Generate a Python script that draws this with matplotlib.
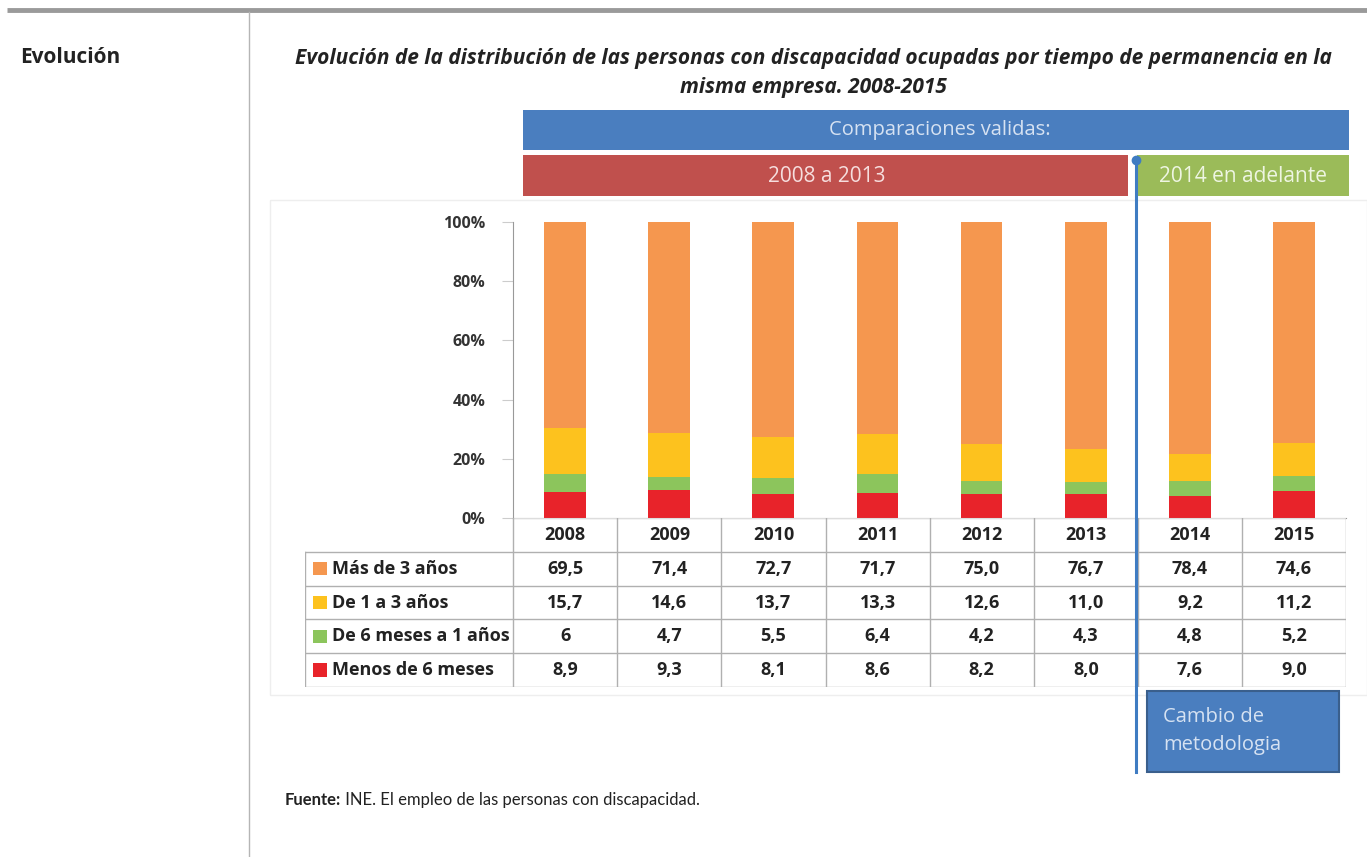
import numpy as np
import matplotlib
matplotlib.use("Agg")
from matplotlib import pyplot as plt
from matplotlib.patches import Rectangle

plt.rcParams['font.family'] = ['Open Sans', 'DejaVu Sans']

# --------------------------------------- data -----------------------------------------

years = ['2008', '2009', '2010', '2011', '2012', '2013', '2014', '2015']
mas_3 = [69.5, 71.4, 72.7, 71.7, 75.0, 76.7, 78.4, 74.6]
de_1_a_3 = [15.7, 14.6, 13.7, 13.3, 12.6, 11.0, 9.2, 11.2]
de_6m_a_1 = [6, 4.7, 5.5, 6.4, 4.2, 4.3, 4.8, 5.2]
menos_6m = [8.9, 9.3, 8.1, 8.6, 8.2, 8.0, 7.6, 9.0]

series_names = ['Más de 3 años', 'De 1 a 3 años', 'De 6 meses a 1 años', 'Menos de 6 meses']
series_values = [mas_3, de_1_a_3, de_6m_a_1, menos_6m]
series_colors = ['#F5974F', '#FDC21E', '#8CC55C', '#E8232A']

y_ticks = [0, 20, 40, 60, 80, 100]

W, H = 1367, 857
fig = plt.figure(figsize=(W / 100, H / 100), dpi=100)


def px_axes(x0, y0, x1, y1):
    # axes placed by pixel box (top-left origin)
    return fig.add_axes([x0 / W, 1 - y1 / H, (x1 - x0) / W, (y1 - y0) / H])


# --------------------------------------- bars -----------------------------------------

ax = px_axes(513, 222, 1346, 518)
x = np.arange(len(years))
totals = np.sum(series_values, axis=0)
bottom = np.zeros(len(years))
# stacked from bottom: menos 6m, 6m-1, 1-3, >3
for vals, col in zip(series_values[::-1], series_colors[::-1]):
    share = np.array(vals) / totals * 100
    ax.bar(x, share, bottom=bottom, width=0.4, color=col, linewidth=0)
    bottom += share

ax.set_xlim(-0.5, len(years) - 0.5)
ax.set_ylim(0, 100)
ax.set_yticks(y_ticks)
ax.set_yticklabels([f"{t}%" for t in y_ticks], fontsize=11.5, fontweight='bold', color='#333333')
ax.set_xticks([])
for s in ['top', 'right']:
    ax.spines[s].set_visible(False)
ax.spines['left'].set_color('#999999')
ax.spines['bottom'].set_color('#999999')
ax.tick_params(axis='y', length=8, color='#cccccc', pad=12)
ax.patch.set_alpha(0)

# --------------------------------------- table -----------------------------------------

def fmt(v):
    return str(v) if isinstance(v, int) else f"{v:.1f}".replace('.', ',')


tab = px_axes(305, 518, 1346, 687)
tab.set_xlim(-2.5, len(years) - 0.5)
tab.set_ylim(len(series_names) + 1, 0)
tab.axis('off')
line_c = '#b0b0b0'
n_rows = len(series_names) + 1
# horizontal lines
tab.plot([-0.5, len(years) - 0.5], [0, 0], color='#dddddd', lw=1)
for r in range(1, n_rows + 1):
    tab.plot([-2.5, len(years) - 0.5], [r, r], color=line_c, lw=1)
# vertical lines
tab.plot([-2.5, -2.5], [1, n_rows], color=line_c, lw=1)
for c in range(len(years) + 1):
    tab.plot([c - 0.5, c - 0.5], [0, n_rows], color=line_c, lw=1)

for i, yr in enumerate(years):
    tab.text(i, 0.5, yr, ha='center', va='center', fontsize=13, fontweight='bold', color='#222222')
for r, (name, vals, col) in enumerate(zip(series_names, series_values, series_colors)):
    yy = r + 1.5
    tab.add_patch(Rectangle((-2.423, yy - 0.2), 0.135, 0.4, color=col, lw=0))
    tab.text(-2.24, yy, name, ha='left', va='center', fontsize=13, fontweight='bold', color='#222222')
    for i, v in enumerate(vals):
        tab.text(i, yy, fmt(v), ha='center', va='center', fontsize=13, fontweight='bold', color='#222222')

# --------------------------------------- page overlay -----------------------------------------

ov = fig.add_axes([0, 0, 1, 1], zorder=5)
ov.set_xlim(0, W)
ov.set_ylim(H, 0)
ov.axis('off')
ov.patch.set_alpha(0)

ov.plot([7, W], [10, 10], color='#9a9a9a', lw=3.5, solid_capstyle='butt')
ov.plot([249, 249], [12, H], color='#b5b5b5', lw=1)
ov.add_patch(Rectangle((270, 200), 1097, 495, fill=False, ec='#eeeeee', lw=1))

ov.text(20, 57, 'Evolución', ha='left', va='center', fontsize=15, fontweight='bold', color='#222222')
ov.text(813, 58, 'Evolución de la distribución de las personas con discapacidad ocupadas por tiempo de permanencia en la',
        ha='center', va='center', fontsize=15, fontweight='bold', style='italic', color='#222222')
ov.text(813, 87, 'misma empresa. 2008-2015', ha='center', va='center', fontsize=15,
        fontweight='bold', style='italic', color='#222222')

ov.add_patch(Rectangle((523, 110), 826, 40, color='#4A7EBF', lw=0))
ov.text(940, 130, 'Comparaciones validas:', ha='center', va='center', fontsize=14.5, color='#d6e2f2')
ov.add_patch(Rectangle((523, 155), 605, 41, color='#C0504D', lw=0))
ov.text(827, 176, '2008 a 2013', ha='center', va='center', fontsize=15, color='#f6dede')
ov.add_patch(Rectangle((1137, 155), 212, 41, color='#9BBB59', lw=0))
ov.text(1243, 176, '2014 en adelante', ha='center', va='center', fontsize=15, color='#eef5e2')

ov.plot([1136, 1136], [160, 772], color='#3F7CC2', lw=2.2)
ov.plot([1136], [160], marker='o', ms=6, color='#3F7CC2')

ov.add_patch(Rectangle((1147, 691), 192, 81, fc='#4A7EBF', ec='#3a5f8c', lw=1.5))
ov.text(1163, 717, 'Cambio de', ha='left', va='center', fontsize=14.5, color='#d6e2f2')
ov.text(1163, 745, 'metodologia', ha='left', va='center', fontsize=14.5, color='#d6e2f2')

src = ov.text(285, 800, 'Fuente:', ha='left', va='center', fontsize=12, fontweight='bold',
              color='#222222', family=['Lato', 'DejaVu Sans'])
ov.annotate(' INE. El empleo de las personas con discapacidad.', xycoords=src, xy=(1, 0.5),
            ha='left', va='center', fontsize=12, color='#222222', family=['Lato', 'DejaVu Sans'])

fig.savefig('out.png', dpi=100)
